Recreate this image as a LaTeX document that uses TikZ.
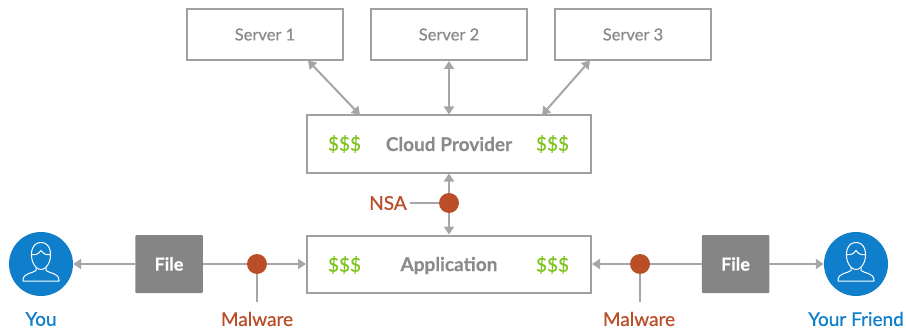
\documentclass[tikz,border=0pt]{standalone}
\usepackage{fontspec}
\setmainfont{Lato}
\newfontfamily\medf[FakeBold=0.6]{Lato}
\newfontfamily\heavyf[FakeBold=0.3]{Lato Bold}
\usetikzlibrary{arrows.meta,calc}
\definecolor{linegray}{HTML}{A6A6A6}
\definecolor{boxgray}{HTML}{A0A0A0}
\definecolor{textgray}{HTML}{8A8A8A}
\definecolor{filegray}{HTML}{858585}
\definecolor{dollargreen}{HTML}{7FC41F}
\definecolor{rust}{HTML}{B94E28}
\definecolor{userblue}{HTML}{0F7FCC}
\tikzset{
  x=1pt,y=-1pt,
  conn/.style={draw=linegray,line width=2pt},
  tipped/.style={conn,-{Triangle[length=8pt,width=10pt]}},
  both/.style={conn,{Triangle[length=8pt,width=10pt]}-{Triangle[length=8pt,width=10pt]}},
  serverbox/.style={draw=boxgray,line width=2pt,fill=white,minimum width=156pt,minimum height=51pt,inner sep=0pt,text=textgray,font=\medf\fontsize{16.5}{18}\selectfont},
  midbox/.style={draw=boxgray,line width=2pt,fill=white,minimum width=284pt,minimum height=57pt,inner sep=0pt,text=textgray,text height=18pt,text depth=4pt,font=\heavyf\fontsize{19}{22}\selectfont},
  filebox/.style={fill=filegray,rounded corners=1pt,minimum width=67.5pt,minimum height=58pt,inner sep=0pt,text=white,font=\heavyf\fontsize{18}{20}\selectfont},
  money/.style={text=dollargreen,inner sep=0pt,font=\medf\fontsize{19}{24}\selectfont},
  dot/.style={circle,fill=rust,minimum size=20pt,inner sep=0pt},
  usercirc/.style={circle,fill=userblue,minimum size=64pt,inner sep=0pt},
  redlabel/.style={text=rust,inner sep=0pt,font=\medf\fontsize{19}{22}\selectfont},
  bluelabel/.style={text=userblue,inner sep=0pt,font=\medf\fontsize{19}{22}\selectfont},
  icon/.style={draw=white,line width=1pt,line join=round}
}
\newcommand{\usericon}[1]{%
  \begin{scope}[shift={(#1)}]
    \draw[icon] (-8.5,-2) .. controls (-11.5,-12) and (-8,-21) .. (0,-21) .. controls (8,-21) and (11.5,-12) .. (8.5,-2)
      .. controls (6.5,3) and (3.5,6) .. (0,6) .. controls (-3.5,6) and (-6.5,3) .. (-8.5,-2) -- cycle;
    \draw[icon] (-9.5,-9) .. controls (-5,-8) and (-2,-10) .. (0,-13) .. controls (2,-10) and (5,-8) .. (9.5,-9);
    \draw[icon] (-5,4) -- (-5,7) .. controls (-8,10) and (-18,9) .. (-18,17) -- (-18,17.5) -- (18,17.5) -- (18,17)
      .. controls (18,9) and (8,10) .. (5,7) -- (5,4);
  \end{scope}}
\begin{document}
\begin{tikzpicture}
\useasboundingbox (0,0) rectangle (906,329);
% boxes
\node[serverbox] (s1) at (265,34.5) {Server 1};
\node[serverbox] (s2) at (449,34.5) {Server 2};
\node[serverbox] (s3) at (633,34.5) {Server 3};
\node[midbox] (cloud) at (449,144) {Cloud Provider};
\node[midbox] (app) at (449,264) {Application};
\node[money] (m1) at (344.5,144) {\$\$\$};
\node[money] (m2) at (552.5,144) {\$\$\$};
\node[money] (m3) at (344.5,265) {\$\$\$};
\node[money] (m4) at (552.5,265) {\$\$\$};
\node[filebox] (fl) at (169,264) {File};
\node[filebox] (fr) at (735.5,264) {File};
\node[usercirc] (you) at (41,264) {};
\node[usercirc] (friend) at (856,264) {};
\usericon{41,263.5}
\usericon{856,263.5}
% free ends
\coordinate (c1) at (360,115);
\coordinate (c3) at (542,115);
\coordinate (e1) at (308,60.5);
\coordinate (e3) at (590,60.5);
\coordinate (mlend) at (257,302);
\coordinate (mrend) at (640,302);
\coordinate (nsaend) at (410,203);
% dots
\node[dot] (ml) at (257,264) {};
\node[dot] (mr) at (640,264) {};
\node[dot] (nsa) at (449,203) {};
% labels
\node[redlabel] (tml) at (257,319) {Malware};
\node[redlabel] (tmr) at (639,319) {Malware};
\node[redlabel] (tnsa) at (388,203) {NSA};
\node[bluelabel] (tyou) at (41,319) {You};
\node[bluelabel] (tfriend) at (856,319) {Your Friend};
% connectors
\draw[both] (e1) -- (c1);
\draw[both] (s2.south) -- (cloud.north);
\draw[both] (e3) -- (c3);
\draw[tipped] (fl.west) -- (you.east);
\draw[conn] (fl.east) -- (ml.west);
\draw[tipped] (ml.east) -- (app.west);
\draw[conn] (fr.west) -- (mr.east);
\draw[tipped] (mr.west) -- (app.east);
\draw[tipped] (fr.east) -- (friend.west);
\draw[tipped] (nsa.north) -- (cloud.south);
\draw[tipped] (nsa.south) -- (app.north);
\draw[conn] (nsaend) -- (nsa.west);
\draw[conn] (ml.south) -- (mlend);
\draw[conn] (mr.south) -- (mrend);
\end{tikzpicture}
\end{document}
